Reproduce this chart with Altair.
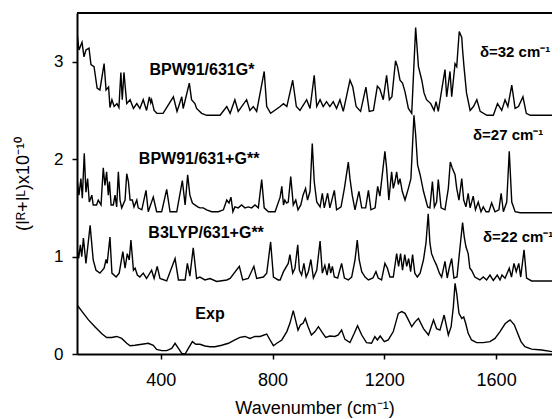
import altair as alt
import pandas as pd

# Wavenumber (cm-1), intensity pairs
bpw91_631g = [
    (100, 3.30), (107, 3.12), (118, 3.20), (125, 3.05), (132, 3.12), (143, 3.14), (150, 2.97),
    (161, 2.95), (172, 2.73), (182, 2.71), (197, 2.98), (204, 2.71), (213, 2.74), (218, 2.53),
    (225, 2.61), (233, 2.54), (243, 2.57), (250, 2.53), (257, 2.89), (262, 2.61), (268, 2.89),
    (278, 2.57), (290, 2.61), (302, 2.52), (314, 2.57), (325, 2.52), (337, 2.61), (349, 2.50),
    (359, 2.64), (364, 2.58), (367, 2.61), (376, 2.50), (386, 2.47), (408, 2.47), (445, 2.64),
    (458, 2.49), (475, 2.64), (480, 2.52), (502, 2.78), (510, 2.61), (522, 2.57), (528, 2.52),
    (546, 2.47), (564, 2.45), (612, 2.45), (636, 2.54), (648, 2.47), (665, 2.61), (677, 2.49),
    (707, 2.61), (719, 2.50), (731, 2.54), (743, 2.49), (770, 2.90), (779, 2.54), (793, 2.47),
    (827, 2.54), (839, 2.57), (851, 2.54), (872, 2.81), (885, 2.54), (898, 2.50), (922, 2.61),
    (934, 2.52), (949, 2.86), (958, 2.54), (970, 2.61), (981, 2.54), (993, 2.59), (1005, 2.54),
    (1017, 2.59), (1029, 2.52), (1041, 2.61), (1053, 2.49), (1077, 2.81), (1087, 2.74),
    (1099, 2.54), (1115, 2.49), (1134, 2.74), (1146, 2.49), (1161, 2.50), (1175, 2.75),
    (1184, 2.72), (1196, 2.61), (1208, 2.86), (1218, 2.61), (1227, 2.64), (1240, 3.01),
    (1247, 2.95), (1256, 2.81), (1265, 2.78), (1274, 2.69), (1286, 2.52), (1298, 2.47),
    (1312, 3.35), (1322, 2.95), (1334, 2.81), (1342, 2.68), (1351, 2.61), (1366, 2.57),
    (1378, 2.50), (1385, 2.59), (1393, 2.49), (1417, 2.92), (1423, 2.64), (1435, 2.90),
    (1441, 2.64), (1453, 2.98), (1459, 2.95), (1468, 3.31), (1477, 3.25), (1480, 3.12),
    (1485, 2.95), (1494, 2.68), (1507, 2.50), (1519, 2.54), (1531, 2.61), (1543, 2.49),
    (1567, 2.45), (1590, 2.45), (1605, 2.57), (1620, 2.50), (1632, 2.61), (1642, 2.54),
    (1656, 2.76), (1668, 2.52), (1680, 2.54), (1696, 2.64), (1708, 2.47), (1722, 2.45),
    (1800, 2.45),
]

bpw91_631pg = [
    (100, 1.80), (107, 1.63), (114, 1.80), (119, 1.60), (126, 2.06), (132, 1.66), (138, 1.80),
    (144, 1.56), (153, 1.63), (158, 1.53), (170, 1.53), (176, 1.58), (186, 1.53), (194, 1.91),
    (200, 1.73), (206, 1.87), (212, 1.63), (216, 1.77), (222, 1.53), (230, 1.53), (236, 1.63),
    (242, 1.51), (248, 1.87), (254, 1.58), (260, 1.50), (272, 1.58), (278, 1.85), (284, 1.77),
    (290, 1.58), (298, 1.58), (304, 1.51), (314, 1.58), (319, 1.50), (332, 1.48), (347, 1.68),
    (355, 1.46), (373, 1.61), (385, 1.46), (403, 1.46), (421, 1.69), (433, 1.46), (457, 1.46),
    (477, 1.78), (487, 1.53), (496, 1.84), (504, 1.63), (513, 1.55), (522, 1.53), (532, 1.51),
    (540, 1.50), (552, 1.50), (564, 1.48), (582, 1.46), (606, 1.46), (624, 1.48), (636, 1.58),
    (644, 1.55), (651, 1.61), (658, 1.46), (665, 1.51), (677, 1.50), (689, 1.53), (701, 1.50),
    (713, 1.51), (725, 1.50), (737, 1.53), (749, 1.50), (761, 1.79), (770, 1.50), (785, 1.46),
    (809, 1.46), (827, 1.61), (833, 1.72), (839, 1.53), (844, 1.58), (850, 1.55), (856, 1.56),
    (865, 1.82), (874, 1.53), (883, 1.58), (891, 1.48), (901, 1.53), (909, 1.63), (918, 1.70),
    (925, 1.58), (934, 1.67), (942, 2.16), (949, 1.77), (958, 1.56), (970, 1.51), (978, 1.65),
    (985, 1.50), (997, 1.65), (1005, 1.50), (1021, 1.68), (1029, 1.48), (1045, 1.51),
    (1057, 1.70), (1071, 1.97), (1077, 1.80), (1085, 1.63), (1095, 1.48), (1109, 1.67),
    (1119, 1.50), (1133, 1.50), (1143, 1.68), (1152, 1.48), (1167, 1.50), (1176, 1.72),
    (1184, 1.62), (1202, 2.08), (1208, 1.91), (1216, 1.58), (1226, 1.87), (1232, 1.70),
    (1238, 1.77), (1244, 1.87), (1250, 1.74), (1256, 1.80), (1264, 1.67), (1274, 1.58),
    (1286, 1.70), (1295, 1.80), (1306, 2.45), (1312, 2.25), (1319, 1.94), (1328, 1.84),
    (1340, 1.67), (1355, 1.51), (1363, 1.50), (1372, 1.77), (1379, 1.51), (1387, 1.56),
    (1393, 1.79), (1403, 1.50), (1417, 1.48), (1429, 1.70), (1436, 1.97), (1443, 1.91),
    (1453, 1.84), (1459, 1.70), (1467, 1.58), (1477, 1.80), (1484, 1.58), (1492, 1.51),
    (1500, 1.65), (1507, 1.50), (1518, 1.62), (1526, 1.48), (1536, 1.56), (1546, 1.46),
    (1554, 1.51), (1564, 1.46), (1574, 1.46), (1584, 1.55), (1596, 1.46), (1610, 1.48),
    (1618, 1.65), (1626, 1.46), (1638, 1.56), (1647, 2.08), (1656, 1.56), (1668, 1.46),
    (1686, 1.45), (1800, 1.45),
]

b3lyp_631pg = [
    (100, 1.10), (106, 0.98), (112, 1.12), (117, 1.00), (123, 1.19), (132, 0.93), (147, 1.32),
    (158, 0.965), (168, 0.86), (182, 0.83), (197, 0.88), (204, 0.97), (208, 0.93), (218, 1.20),
    (225, 0.83), (240, 0.79), (251, 0.83), (264, 1.05), (272, 0.88), (280, 1.03), (287, 0.965),
    (293, 1.17), (302, 0.86), (308, 0.88), (316, 0.81), (325, 0.79), (337, 0.83), (349, 0.775),
    (367, 0.86), (376, 0.775), (387, 0.90), (397, 0.775), (421, 0.75), (451, 0.98), (463, 0.76),
    (487, 0.76), (495, 0.93), (504, 0.80), (516, 1.09), (528, 0.775), (540, 0.79), (558, 0.76),
    (576, 0.775), (600, 0.745), (636, 0.76), (648, 0.775), (681, 0.90), (693, 0.76),
    (713, 0.775), (733, 0.90), (743, 0.775), (767, 0.79), (779, 0.83), (793, 1.15), (803, 0.79),
    (820, 0.76), (827, 0.76), (839, 0.845), (856, 0.93), (862, 1.02), (872, 0.83), (880, 0.88),
    (890, 1.12), (896, 0.86), (904, 0.81), (912, 0.93), (920, 0.79), (928, 0.845), (937, 0.97),
    (946, 0.78), (958, 0.86), (970, 1.16), (978, 0.83), (987, 0.91), (995, 0.81), (1002, 0.93),
    (1008, 0.83), (1014, 0.90), (1021, 0.79), (1033, 0.78), (1047, 0.93), (1057, 0.78),
    (1071, 0.76), (1083, 0.79), (1095, 0.965), (1103, 1.17), (1110, 0.965), (1119, 0.845),
    (1131, 0.79), (1143, 0.76), (1159, 0.78), (1170, 0.845), (1178, 0.78), (1190, 0.76),
    (1202, 0.93), (1211, 0.88), (1220, 0.79), (1232, 0.79), (1244, 1.03), (1251, 0.90),
    (1258, 1.03), (1265, 0.86), (1273, 1.02), (1280, 0.90), (1287, 0.98), (1294, 0.845),
    (1301, 1.02), (1309, 0.83), (1318, 0.79), (1328, 0.83), (1340, 0.965), (1349, 1.14),
    (1357, 1.44), (1363, 1.14), (1369, 1.03), (1378, 0.965), (1387, 0.91), (1397, 0.83),
    (1405, 0.79), (1417, 0.95), (1425, 0.78), (1432, 0.88), (1441, 0.98), (1449, 0.78),
    (1460, 0.79), (1471, 1.10), (1480, 1.35), (1486, 1.20), (1492, 1.10), (1500, 1.03),
    (1506, 0.88), (1512, 0.86), (1524, 0.79), (1542, 0.76), (1554, 0.79), (1566, 0.76),
    (1578, 0.81), (1590, 0.755), (1604, 0.81), (1614, 0.76), (1621, 0.81), (1632, 0.777),
    (1647, 0.88), (1655, 0.79), (1664, 0.93), (1672, 0.845), (1681, 0.93), (1688, 0.79),
    (1700, 1.07), (1709, 0.78), (1727, 0.75), (1800, 0.75),
]

experiment = [
    (100, 0.47), (104, 0.49), (117, 0.44), (141, 0.35), (164, 0.28), (188, 0.21), (206, 0.17),
    (224, 0.17), (242, 0.18), (260, 0.16), (278, 0.11), (290, 0.085), (308, 0.09), (332, 0.10),
    (355, 0.11), (373, 0.09), (385, 0.048), (403, 0.035), (421, 0.035), (439, 0.058),
    (451, 0.11), (463, 0.058), (475, 0.007), (487, 0.0), (499, 0.06), (513, 0.127), (525, 0.10),
    (540, 0.10), (558, 0.082), (576, 0.075), (594, 0.075), (618, 0.09), (642, 0.11),
    (665, 0.144), (683, 0.17), (701, 0.18), (719, 0.16), (737, 0.18), (755, 0.18), (779, 0.205),
    (791, 0.144), (803, 0.085), (815, 0.11), (833, 0.144), (851, 0.23), (862, 0.315),
    (874, 0.445), (882, 0.35), (891, 0.245), (900, 0.30), (909, 0.315), (917, 0.365),
    (927, 0.28), (939, 0.195), (952, 0.23), (964, 0.28), (978, 0.22), (990, 0.17), (1005, 0.185),
    (1023, 0.18), (1035, 0.195), (1047, 0.245), (1059, 0.15), (1077, 0.117), (1092, 0.21),
    (1104, 0.29), (1119, 0.195), (1136, 0.117), (1154, 0.11), (1166, 0.178), (1175, 0.144),
    (1185, 0.185), (1200, 0.127), (1214, 0.144), (1232, 0.23), (1250, 0.417), (1262, 0.435),
    (1274, 0.417), (1286, 0.35), (1298, 0.28), (1310, 0.33), (1322, 0.365), (1340, 0.26),
    (1358, 0.195), (1376, 0.35), (1387, 0.26), (1399, 0.245), (1414, 0.40), (1429, 0.195),
    (1439, 0.28), (1447, 0.486), (1453, 0.725), (1459, 0.62), (1467, 0.417), (1477, 0.365),
    (1484, 0.38), (1491, 0.315), (1500, 0.212), (1512, 0.144), (1530, 0.117), (1554, 0.117),
    (1578, 0.127), (1596, 0.16), (1614, 0.23), (1632, 0.31), (1650, 0.35), (1665, 0.30),
    (1677, 0.212), (1689, 0.127), (1703, 0.075), (1727, 0.05), (1763, 0.041), (1800, 0.024),
]

series_names = ["BPW91/631G*", "BPW91/631+G**", "B3LYP/631+G**", "Exp"]
series_points = [bpw91_631g, bpw91_631pg, b3lyp_631pg, experiment]

label_texts = ["BPW91/631G*", "BPW91/631+G**", "B3LYP/631+G**", "Exp"]
label_x = [547, 537, 562, 576]
label_y = [2.91, 2.00, 1.24, 0.41]

delta_texts = ["δ=32 cm⁻¹", "δ=27 cm⁻¹", "δ=22 cm⁻¹"]
delta_x = [1542, 1517, 1553]
delta_y = [3.10, 2.25, 1.20]

x_ticks = [400, 800, 1200, 1600]
y_ticks = [0, 1, 2, 3]

rows = []
for name, pts in zip(series_names, series_points):
    for i, (wx, iy) in enumerate(pts):
        rows.append({"series": name, "i": i, "wn": wx, "val": iy})
df = pd.DataFrame(rows)

labels_df = pd.DataFrame({"t": label_texts, "wn": label_x, "val": label_y})
delta_df = pd.DataFrame({"t": delta_texts, "wn": delta_x, "val": delta_y})

FONT = "Liberation Sans"
W, H = 475, 341

xscale = alt.Scale(domain=[100, 1800], nice=False, zero=False)
yscale = alt.Scale(domain=[0, 3.5], nice=False, zero=False)

lines = alt.Chart(df).mark_line(color="black", strokeWidth=1.4, clip=True).encode(
    x=alt.X("wn:Q", scale=xscale,
            axis=alt.Axis(values=x_ticks, format="d", title="Wavenumber (cm⁻¹)",
                          labelFontSize=18, titleFontSize=18, labelPadding=12,
                          titleFontWeight="normal", titleY=54, titleBaseline="middle")),
    y=alt.Y("val:Q", scale=yscale,
            axis=alt.Axis(values=y_ticks, format="d", title="(Iᴿ+Iᴸ)x10⁻¹⁰", labelFontSize=17,
                          titleFontSize=18, labelPadding=9, titleFontWeight="normal",
                          titleX=-54, titleBaseline="middle")),
    detail="series:N",
    order="i:Q",
)

labels = alt.Chart(labels_df).mark_text(
    font=FONT, fontSize=16, fontWeight="bold", color="black", align="center", baseline="middle"
).encode(x=alt.X("wn:Q", scale=xscale), y=alt.Y("val:Q", scale=yscale), text="t:N")

deltas = alt.Chart(delta_df).mark_text(
    font=FONT, fontSize=15, fontWeight="bold", color="black", align="left", baseline="middle"
).encode(x=alt.X("wn:Q", scale=xscale), y=alt.Y("val:Q", scale=yscale), text="t:N")

top_border = alt.Chart(pd.DataFrame({"a": [0]})).mark_rule(color="black", strokeWidth=2).encode(
    x=alt.value(0), x2=alt.value(W), y=alt.value(0)
)

chart = alt.layer(lines, labels, deltas, top_border).properties(
    width=W, height=H,
    autosize=alt.AutoSizeParams(type="none"),
    padding={"left": 69, "top": 5, "right": 0, "bottom": 64},
).configure_view(stroke=None).configure_axis(
    grid=False, domainColor="black", domainWidth=2, tickColor="black", tickWidth=1.5,
    tickSize=5, labelColor="black", titleColor="black", labelFont=FONT, titleFont=FONT,
)

chart.save("out.html", embed_options={"renderer": "svg", "actions": False})
